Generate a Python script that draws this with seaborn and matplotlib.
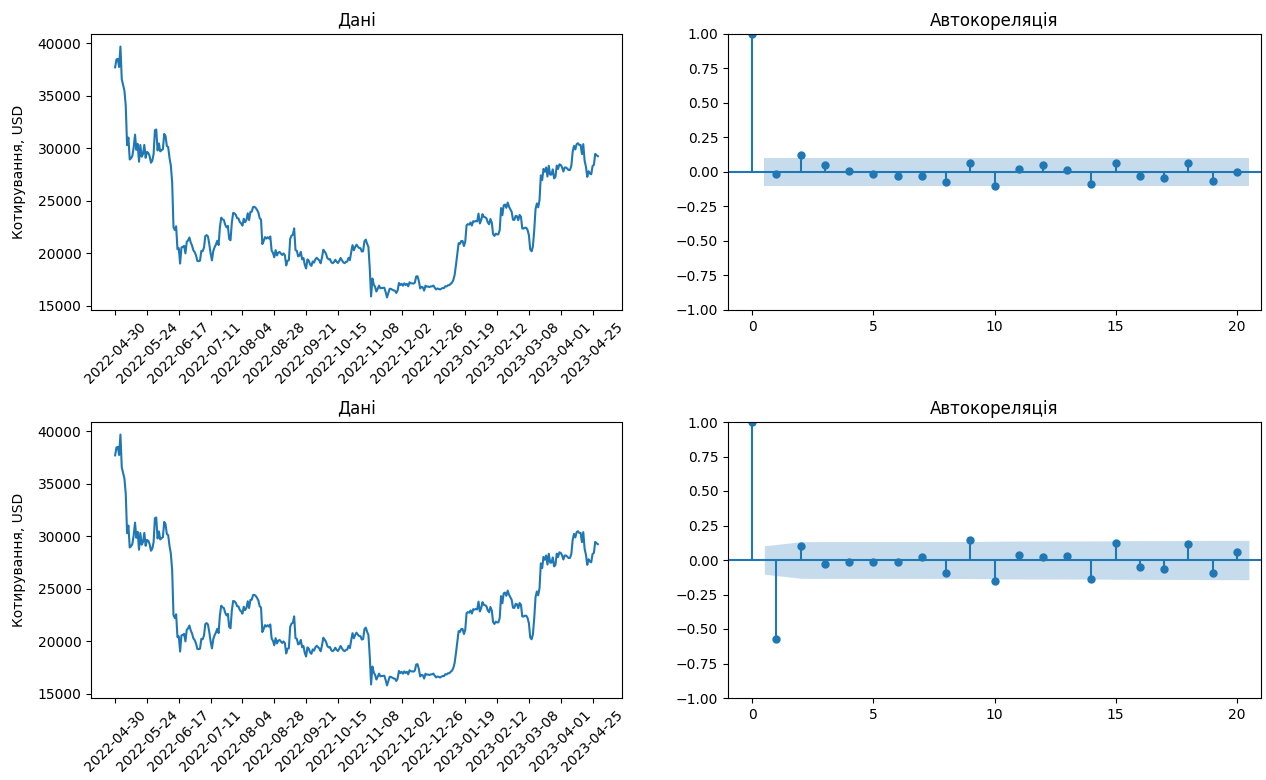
import numpy as np
import pandas as pd
import matplotlib
matplotlib.use("Agg")
import matplotlib.pyplot as plt
import seaborn as sns

# Daily BTC-USD closing prices, grouped by month
close_2022_04 = [37714]
close_2022_05 = [38469, 38529, 37750, 39698, 36575, 36040, 35502, 34060, 30296, 31022,
                 28936, 29047, 29284, 30102, 31305, 29862, 30425, 28720, 30315, 29201,
                 29445, 30323, 29098, 29655, 29562, 29267, 28627, 28814, 29445, 31726,
                 31792]
close_2022_06 = [29799, 30467, 29704, 29833, 29906, 31370, 31155, 30214, 30112, 29083,
                 28360, 26762, 22487, 22206, 22572, 20381, 20472, 19017, 20553, 20600,
                 20710, 19988, 21085, 21231, 21502, 21028, 20736, 20280, 20105, 19785]
close_2022_07 = [19269, 19243, 19297, 20231, 20190, 20548, 21637, 21731, 21592, 20861,
                 19970, 19323, 20212, 20569, 20836, 21190, 20779, 22485, 23389, 23231,
                 23164, 22714, 22466, 22609, 21361, 21239, 22930, 23843, 23804, 23656,
                 23336]
close_2022_08 = [23314, 22978, 22846, 22630, 23289, 22961, 23175, 23810, 23164, 23948,
                 23957, 24402, 24424, 24319, 24136, 23883, 23335, 23212, 20877, 21166,
                 21534, 21398, 21528, 21395, 21600, 20260, 20041, 19616, 20297, 19796,
                 20050]
close_2022_09 = [20127, 19969, 19832, 19987, 19812, 18838, 19290, 19329, 21381, 21680,
                 21769, 22370, 20296, 20241, 19701, 19772, 20127, 19419, 19544, 18891,
                 18547, 19413, 19297, 18937, 18802, 19222, 19110, 19426, 19573, 19431]
close_2022_10 = [19312, 19044, 19623, 20336, 20160, 19955, 19546, 19417, 19446, 19141,
                 19051, 19157, 19382, 19185, 19067, 19268, 19550, 19334, 19139, 19053,
                 19172, 19208, 19567, 19345, 20095, 20771, 20285, 20595, 20818, 20635,
                 20495]
close_2022_11 = [20485, 20159, 20209, 21148, 21299, 20906, 20591, 18547, 15883, 17587,
                 17034, 16800, 16354, 16619, 16913, 16662, 16688, 16697, 16711, 16291,
                 15787, 16190, 16611, 16605, 16522, 16458, 16428, 16212, 16442, 17168]
close_2022_12 = [16968, 17089, 16908, 17130, 16975, 17089, 16848, 17233, 17134, 17129,
                 17105, 17206, 17782, 17815, 17365, 16647, 16796, 16757, 16439, 16906,
                 16817, 16831, 16778, 16842, 16841, 16920, 16717, 16552, 16643, 16603,
                 16548]
close_2023_01 = [16625, 16688, 16680, 16864, 16836, 16952, 16955, 17092, 17197, 17446,
                 17934, 18870, 19930, 20955, 20888, 21169, 21161, 20689, 21086, 22676,
                 22777, 22720, 22934, 22637, 23055, 23012, 23078, 23031, 23775, 22840,
                 23139]
close_2023_02 = [23724, 23472, 23431, 23327, 22933, 22763, 23264, 22940, 21819, 21651,
                 21870, 21788, 21808, 22220, 24307, 23623, 24565, 24641, 24328, 24829,
                 24437, 24188, 23947, 23198, 23175, 23562, 23522, 23147]
close_2023_03 = [23646, 23475, 22362, 22353, 22435, 22429, 22219, 21718, 20363, 20187,
                 20633, 22163, 24197, 24746, 24375, 25052, 27423, 26965, 28038, 27767,
                 28175, 27307, 28333, 27493, 27494, 27994, 27139, 27268, 28348, 28033,
                 28478]
close_2023_04 = [28411, 28199, 27790, 28168, 28177, 28044, 27925, 27948, 28333, 29652,
                 30235, 29892, 30399, 30485, 30318, 30315, 29445, 30398, 28822, 28246,
                 27276, 27818, 27591, 27525, 28307, 28422, 29473, 29340, 29248]

start_date = "2022-04-30"
tick_step = 24

# Correlogram values, lags 0..20
lags = list(range(21))
acf_top = [1.0, -0.012, 0.123, 0.053, 0.005, -0.012, -0.027, -0.027, -0.075, 0.068,
           -0.104, 0.022, 0.053, 0.012, -0.090, 0.068, -0.027, -0.041, 0.068, -0.065,
           -0.002]
acf_bottom = [1.0, -0.575, 0.102, -0.029, -0.012, -0.012, -0.012, 0.022, -0.097, 0.148,
              -0.153, 0.036, 0.022, 0.032, -0.136, 0.121, -0.051, -0.066, 0.114, -0.097,
              0.061]
n_obs_top = 364
n_obs_bottom = 363

close = np.concatenate([close_2022_04, close_2022_05, close_2022_06, close_2022_07,
                        close_2022_08, close_2022_09, close_2022_10, close_2022_11,
                        close_2022_12, close_2023_01, close_2023_02, close_2023_03,
                        close_2023_04]).astype(float)
dates = pd.date_range(start_date, periods=len(close), freq="D")
df = pd.DataFrame({"date": dates, "close": close})

fig = plt.figure(figsize=(12.66, 7.8), dpi=100)
W, H = 1266.0, 780.0
left_col = (91 / W, 531 / W)
right_col = (728 / W, 533 / W)
top_row = (1 - 310 / H, 276 / H)
bot_row = (1 - 698 / H, 276 / H)

ax_tl = fig.add_axes([left_col[0], top_row[0], left_col[1], top_row[1]])
ax_tr = fig.add_axes([right_col[0], top_row[0], right_col[1], top_row[1]])
ax_bl = fig.add_axes([left_col[0], bot_row[0], left_col[1], bot_row[1]])
ax_br = fig.add_axes([right_col[0], bot_row[0], right_col[1], bot_row[1]])

c0 = "#1f77b4"


def price_panel(ax):
    sns.lineplot(data=df, x="date", y="close", ax=ax, color=c0, linewidth=1.5)
    tick_dates = dates[::tick_step]
    ax.set_xticks(tick_dates)
    ax.set_xticklabels([d.strftime("%Y-%m-%d") for d in tick_dates])
    ax.tick_params(axis="x", rotation=45)
    ax.set_xlabel("")
    ax.set_ylabel("Котирування, USD", labelpad=8)
    ax.set_title("Дані")


def corr_panel(ax, values, band):
    x = np.array(lags, dtype=float)
    v = np.array(values)
    ax.vlines(x, 0, v, colors=c0, linewidth=1.5)
    ax.axhline(0, color=c0, linewidth=1.5)
    ax.plot(x, v, marker="o", markersize=5, linestyle="None", color=c0)
    bx = x[1:].copy()
    bx[0] -= 0.5
    bx[-1] += 0.5
    ax.fill_between(bx, -band[1:], band[1:], color=c0, alpha=0.25, linewidth=0)
    ax.set_xlim(-1, 21)
    ax.set_ylim(-1, 1)
    ax.set_yticks(np.arange(-1.0, 1.01, 0.25))
    ax.set_xticks([0, 5, 10, 15, 20])
    ax.set_title("Автокореляція")


# Confidence bands: white-noise bound for the upper panel, Bartlett bound for the lower
band_top = np.full(len(lags), 1.96 / np.sqrt(n_obs_top))
r2 = np.array(acf_bottom[1:]) ** 2
cum = np.concatenate([[0.0, 0.0], np.cumsum(r2)[:-1]])
band_bottom = 1.96 * np.sqrt((1 + 2 * cum) / n_obs_bottom)

price_panel(ax_tl)
price_panel(ax_bl)
corr_panel(ax_tr, acf_top, band_top)
corr_panel(ax_br, acf_bottom, band_bottom)

fig.savefig("out.png", dpi=100)
